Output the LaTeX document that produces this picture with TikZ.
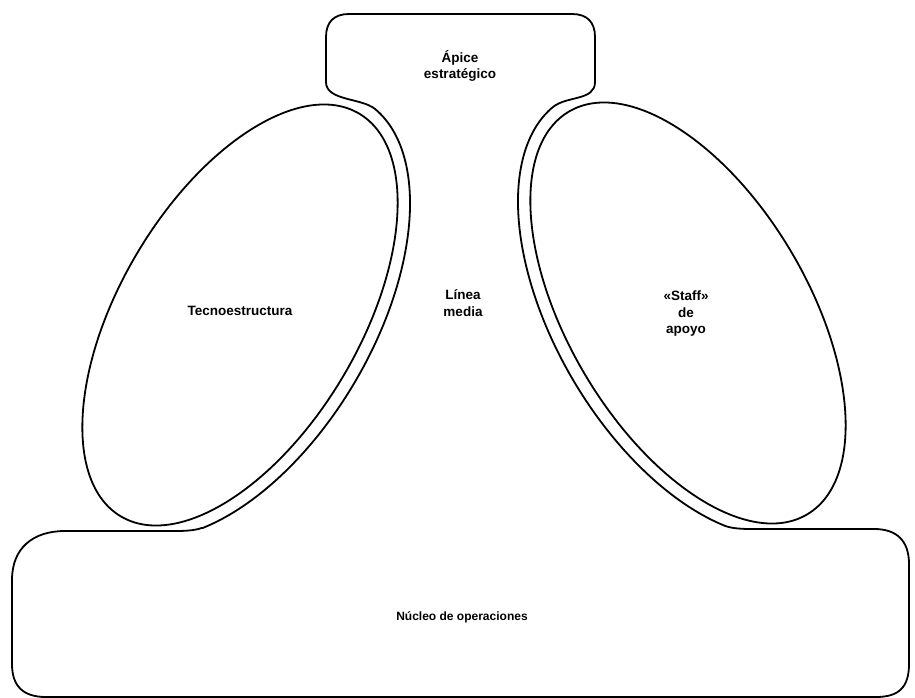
\documentclass[tikz,border=0pt]{standalone}
\usepackage{fontspec}
\setmainfont{Liberation Sans}
\begin{document}
\begin{tikzpicture}[x=1pt,y=-1pt,line width=1.8pt,line join=round,
  lbl/.style={font=\bfseries\fontsize{13.5}{16.5}\selectfont,align=center,inner sep=0pt},
  lblsmall/.style={font=\bfseries\fontsize{12}{15}\selectfont,align=center,inner sep=0pt}]
\useasboundingbox (0,0) rectangle (915,698);
\def\LEcx{240}\def\LEcy{315}
\def\REcx{688}\def\REcy{313}
% inner ellipses
\draw[rotate around={-30.6:(\LEcx,\LEcy)}] (\LEcx,\LEcy) ellipse [x radius=120, y radius=234];
\draw[rotate around={30.6:(\REcx,\REcy)}] (\REcx,\REcy) ellipse [x radius=120, y radius=234];
% outline of apex, middle line and operating core
\draw (349,14) -- (572,14) .. controls (587,14) and (595,22) .. (595,37)
  -- (595,82) .. controls (595,101) and (566.7,95.6) .. (552.9,107.1)
  -- plot[smooth,variable=\s,domain=-85:55,samples=57]
     ({\REcx-114.5*cos(\s)+125.7*sin(\s)},{\REcy+67.7*cos(\s)+212.6*sin(\s)})
  .. controls (733,528.6) and (742,529) .. (752,529)
  -- (874,529) .. controls (897,529) and (909,541) .. (909,564)
  -- (909,664) .. controls (909,687) and (899,697) .. (876,697)
  -- (46,697) .. controls (23,697) and (12,686) .. (12,664)
  -- (12,580) .. controls (12,548) and (33,531) .. (65,531)
  -- (175,531) .. controls (185,531) and (195,530.5) .. (201.5,528)
  -- plot[smooth,variable=\t,domain=-55:85,samples=57]
     ({\LEcx+114.5*cos(\t)+125.7*sin(\t)},{\LEcy+67.7*cos(\t)-212.6*sin(\t)})
  .. controls (361.3,97.6) and (326,101) .. (326,82)
  -- (326,37) .. controls (326,22) and (334,14) .. (349,14) -- cycle;
% labels
\node[lbl] (apex) at (460,66) {Ápice\\estratégico};
\node[lbl] (tecno) at (240,311) {Tecnoestructura};
\node[lbl] (linea) at (463,303) {Línea\\media};
\node[lbl] (staff) at (686,314) {«Staff»\\de\\apoyo};
\node[lblsmall] (nucleo) at (462,617) {Núcleo de operaciones};
\end{tikzpicture}
\end{document}
